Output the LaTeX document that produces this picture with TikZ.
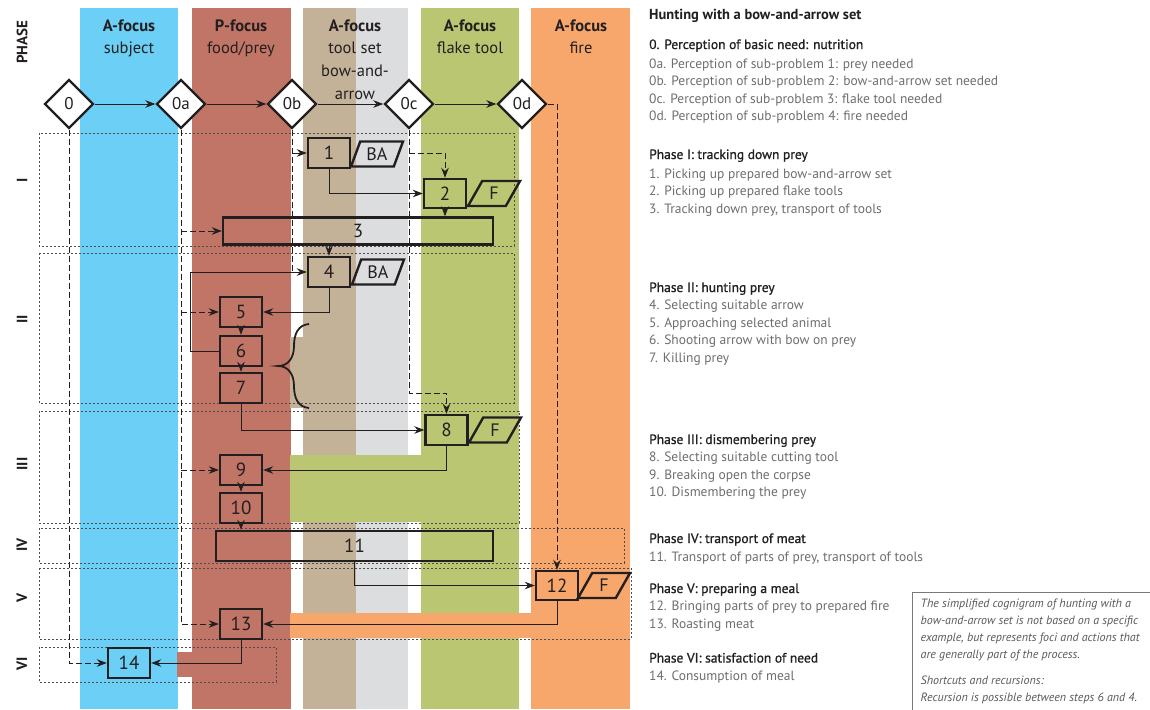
\documentclass[tikz,border=0pt]{standalone}
\usepackage{fontspec}
\setmainfont{PT Sans}
\newfontfamily\semibold[FakeBold=1.0]{PT Sans}
\usetikzlibrary{shapes.geometric,arrows.meta}

\definecolor{cblue}{HTML}{6BCFF6}
\definecolor{cred}{HTML}{C17566}
\definecolor{ctan}{HTML}{C4B298}
\definecolor{cgrey}{HTML}{DCDDDE}
\definecolor{cgreen}{HTML}{BBC672}
\definecolor{corange}{HTML}{F7A76C}
\definecolor{ink}{HTML}{231F20}
\definecolor{txtgrey}{HTML}{6D6E71}
\definecolor{notegrey}{HTML}{58595B}

\newcommand\fs[1]{\fontsize{#1}{#1}\selectfont}

\begin{document}
\begin{tikzpicture}[x=1pt,y=-1pt,
  stepbox/.style={draw=ink, line width=2.4pt, minimum width=42pt, minimum height=30pt,
    inner sep=0pt, font=\fs{19}, text=ink},
  longbox/.style={stepbox, minimum height=27pt},
  dia/.style={diamond, draw=ink, fill=white, line width=2.4pt, minimum width=49pt,
    minimum height=49pt, inner sep=0pt, font=\fs{17}, text=ink},
  para/.style={trapezium, trapezium left angle=66, trapezium right angle=114,
    trapezium stretches=true, draw=ink, line width=2.4pt, minimum width=52pt,
    minimum height=25pt, inner sep=0pt, font=\fs{18}, text=ink},
  flow/.style={draw=ink, line width=0.9pt, -{Stealth[length=10pt,width=7.5pt]}},
  dflow/.style={flow, dash pattern=on 6pt off 3pt},
  trunk/.style={draw=ink, line width=0.9pt, dash pattern=on 6pt off 3pt},
  phasebox/.style={draw=ink!80, line width=0.8pt, dash pattern=on 2pt off 2pt},
  colhead/.style={anchor=base, font=\fs{16.5}\bfseries, text=ink},
  colsub/.style={anchor=base, font=\fs{16.5}, text=ink},
  phaselab/.style={rotate=90, font=\fs{15}\bfseries, text=ink},
  legend/.style={anchor=base west, inner sep=0pt},
  ttl/.style={legend, font=\fs{14.5}\bfseries, text=ink},
  hd/.style={legend, font=\fs{13.5}\semibold, text=ink},
  itm/.style={legend, font=\fs{13.5}, text=txtgrey},
  note/.style={legend, font=\fs{12}\itshape, text=notegrey}
]
\useasboundingbox (0,0) rectangle (1150,709);
\fill[white] (0,0) rectangle (1150,709);

% focus columns
\fill[cblue]   (80,8)    rectangle (178,709);
\fill[cred]    (192,8)   rectangle (290.5,709);
\fill[ctan]    (303,8)   rectangle (356,709);
\fill[cgrey]   (356,8)   rectangle (408,709);
\fill[cgreen]  (421,8)   rectangle (519,709);
\fill[corange] (531,8)   rectangle (630,709);

% colour bands where an action reaches across foci
\fill[ctan]    (290,337) rectangle (303,408);
\fill[cgreen]  (290,455) rectangle (519,522);
\fill[corange] (290,613) rectangle (630,638);
\fill[cred]    (177,652) rectangle (192,677);

% column headings
\node[colhead] (hA) at (129,31.5) {A-focus};
\node[colsub]  (hA2) at (129,53) {subject};
\node[colhead] (hP) at (241,31.5) {P-focus};
\node[colsub]  (hP2) at (241,53) {food/prey};
\node[colhead] (hT) at (355,31.5) {A-focus};
\node[colsub]  (hT2) at (355,53) {tool set};
\node[colsub]  (hT3) at (355,77) {bow-and-};
\node[colsub]  (hT4) at (355,99) {arrow};
\node[colhead] (hF) at (470,31.5) {A-focus};
\node[colsub]  (hF2) at (470,53) {flake tool};
\node[colhead] (hO) at (581,31.5) {A-focus};
\node[colsub]  (hO2) at (581,53) {fire};

% phase labels
\node[phaselab] (pPH) at (22,42) {PHASE};
\node[phaselab] (p1) at (22,180) {I};
\node[phaselab] (p2) at (22,319) {II};
\node[phaselab] (p3) at (22,464) {III};
\node[phaselab] (p4) at (22,545) {IV};
\node[phaselab] (p5) at (22,598) {V};
\node[phaselab] (p6) at (22,664) {VI};

% phase frames
\draw[phasebox] (39,133) rectangle (514,246);
\draw[phasebox] (39,253) rectangle (514,403);
\draw[phasebox] (39,411) rectangle (519,523);
\draw[phasebox] (39,528) rectangle (624,563);
\draw[phasebox] (39,568) rectangle (631,639);
\draw[phasebox] (39,647) rectangle (276,682);

% steps
\node[stepbox] (b1)  at (329,153) {1};
\node[stepbox, minimum height=29pt] (b2)  at (445,193.5) {2};
\node[longbox, minimum width=270pt] (b3) at (358,231) {3};
\node[stepbox] (b4)  at (329,272) {4};
\node[stepbox] (b5)  at (241,312) {5};
\node[stepbox] (b6)  at (241,351) {6};
\node[stepbox] (b7)  at (241,388) {7};
\node[stepbox] (b8)  at (446.5,430) {8};
\node[stepbox] (b9)  at (241,470) {9};
\node[stepbox] (b10) at (241,508) {10};
\node[stepbox, minimum width=277pt] (b11) at (354.5,546) {11};
\node[stepbox, minimum height=29pt] (b12) at (557,585.5) {12};
\node[stepbox] (b13) at (241,624) {13};
\node[stepbox] (b14) at (129,663) {14};

% tool tokens
\node[para] (ba1) at (377,154) {BA};
\node[para] (f2)  at (494,193.5) {F};
\node[para] (ba4) at (378,272) {BA};
\node[para] (f8)  at (495,430) {F};
\node[para] (f12) at (604,585.5) {F};

% perception diamonds
\node[dia] (d0)  at (69,104)  {0};
\node[dia] (d0a) at (181,104) {0a};
\node[dia] (d0b) at (292,104) {0b};
\node[dia] (d0c) at (409,104) {0c};
\node[dia] (d0d) at (522,104) {0d};

% sub-problem chain
\draw[flow] (d0.east) -- (d0a.west);
\draw[flow] (d0a.east) -- (d0b.west);
\draw[flow] (d0b.east) -- (d0c.west);
\draw[flow] (d0c.east) -- (d0d.west);

% needs passed down to the steps
\draw[dflow] (d0.south) |- (b14.west);
\draw[dflow] (d0a.south) |- (b13.west);
\draw[dflow] (d0a.south |- b3.west) -- (b3.west);
\draw[dflow] (d0a.south |- b5.west) -- (b5.west);
\draw[dflow] (d0a.south |- b9.west) -- (b9.west);
\draw[trunk] (d0b.south) -- (d0b.south |- b4.west);
\draw[flow] (d0b.south |- b1.west) -- (b1.west);
\coordinate (c2) at (d0c.south |- b1.west);
\coordinate (c8) at (409,393);
\draw[dflow] (c2) -| (b2.north);
\draw[dflow] (d0c.south) -- (c8) -| (b8.north);
\draw[dflow] (d0d.east) -| (b12.north);

% action sequence
\draw[flow] (b1.south) |- (b2.west);
\draw[flow] (b2.south) -- (b2.south |- b3.north);
\draw[flow] (b4.north |- b3.south) -- (b4.north);
\draw[flow] (b4.south) |- (b5.east);
\draw[flow] (b5.south) -- (b6.north);
\draw[flow] (b6.south) -- (b7.north);
\coordinate (rec) at (190.5,351);
\draw[flow] (b6.west) -- (rec) |- (b4.west);
\draw[flow] (b7.south) |- (b8.west);
\draw[flow] (b8.south) |- (b9.east);
\draw[flow] (b9.south) -- (b10.north);
\draw[flow] (b10.south) -- (b10.south |- b11.north);
\draw[flow] (b11.south) |- (b12.west);
\draw[flow] (b12.south) |- (b13.east);
\draw[flow] (b13.south) |- (b14.east);

% brace grouping steps 5 to 7
\draw[ink, line width=1.8pt] (309,324) .. controls (298,325) and (294,334) .. (294,346)
  .. controls (294,358) and (288,366) .. (278,366)
  .. controls (288,366) and (294,374) .. (294,386)
  .. controls (294,398) and (298,407) .. (309,408);

% legend
\node[ttl] (t0) at (649,20) {Hunting with a bow-and-arrow set};
\node[hd]  (h0) at (649,49) {0. Perception of basic need: nutrition};
\node[itm] (i0a) at (649,68) {0a. Perception of sub-problem 1: prey needed};
\node[itm] (i0b) at (649,85.5) {0b. Perception of sub-problem 2: bow-and-arrow set needed};
\node[itm] (i0c) at (649,103) {0c. Perception of sub-problem 3: flake tool needed};
\node[itm] (i0d) at (649,120.5) {0d. Perception of sub-problem 4: fire needed};
\node[hd]  (h1) at (649,159) {Phase I: tracking down prey};
\node[itm] (i1) at (649,178) {1. Picking up prepared bow-and-arrow set};
\node[itm] (i2) at (649,195.5) {2. Picking up prepared flake tools};
\node[itm] (i3) at (649,213) {3. Tracking down prey, transport of tools};
\node[hd]  (h2) at (649,292) {Phase II: hunting prey};
\node[itm] (i4) at (649,309.5) {4. Selecting suitable arrow};
\node[itm] (i5) at (649,327) {5. Approaching selected animal};
\node[itm] (i6) at (649,344.5) {6. Shooting arrow with bow on prey};
\node[itm] (i7) at (649,362) {7. Killing prey};
\node[hd]  (h3) at (649,444) {Phase III: dismembering prey};
\node[itm] (i8) at (649,461.5) {8. Selecting suitable cutting tool};
\node[itm] (i9) at (649,479) {9. Breaking open the corpse};
\node[itm] (i10) at (649,496.5) {10. Dismembering the prey};
\node[hd]  (h4) at (649,543) {Phase IV: transport of meat};
\node[itm] (i11) at (649,561) {11. Transport of parts of prey, transport of tools};
\node[hd]  (h5) at (649,593) {Phase V: preparing a meal};
\node[itm] (i12) at (649,610.5) {12. Bringing parts of prey to prepared fire};
\node[itm] (i13) at (649,628) {13. Roasting meat};
\node[hd]  (h6) at (649,662.5) {Phase VI: satisfaction of need};
\node[itm] (i14) at (649,680) {14. Consumption of meal};

% remark box
\draw[notegrey!80, line width=0.8pt] (912,710) -- (912,592) -- (1151,592);
\node[note] (n1) at (920.5,607.5) {The simplified cognigram of hunting with a};
\node[note] (n2) at (920.5,624.5) {bow-and-arrow set is not based on a specific};
\node[note] (n3) at (920.5,641.5) {example, but represents foci and actions that};
\node[note] (n4) at (920.5,658.5) {are generally part of the process.};
\node[note] (n5) at (920.5,684.5) {Shortcuts and recursions:};
\node[note] (n6) at (920.5,701.5) {Recursion is possible between steps 6 and 4.};
\end{tikzpicture}
\end{document}
